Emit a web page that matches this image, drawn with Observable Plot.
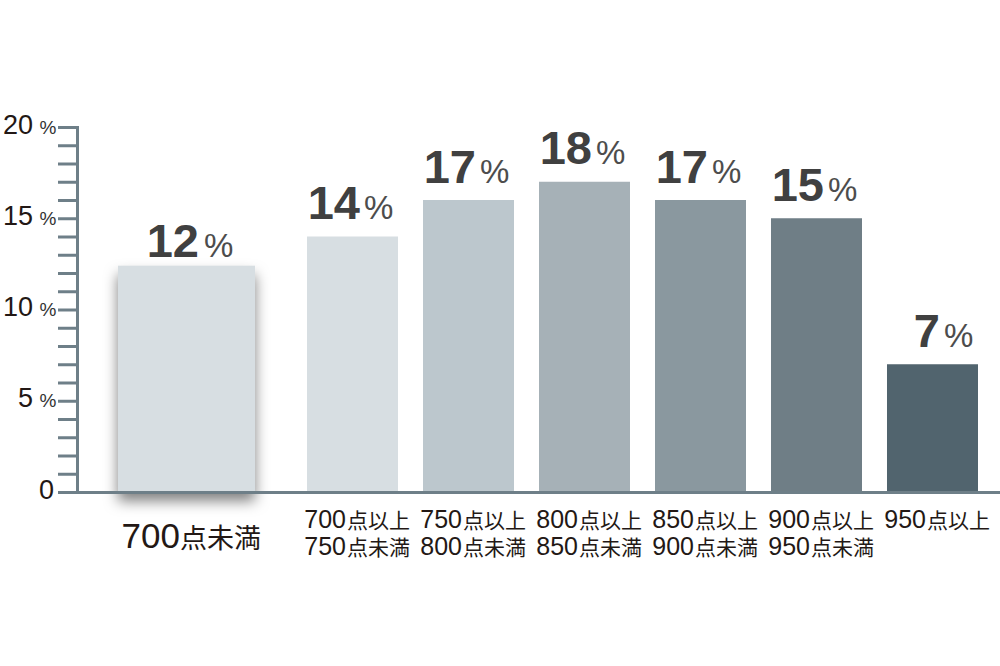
<!DOCTYPE html>
<html>
<head>
<meta charset="utf-8">
<script src="https://cdn.jsdelivr.net/npm/d3@7"></script>
<script src="https://cdn.jsdelivr.net/npm/@observablehq/plot@0.6"></script>
<style>
  html, body { margin: 0; padding: 0; background: #fff; overflow: hidden; }
  #chart svg { display: block; }
</style>
</head>
<body>
<div id="chart"></div>
<script>
// ---- data ----
const categories = [
  "700点未満",
  "700点以上750点未満",
  "750点以上800点未満",
  "800点以上850点未満",
  "850点以上900点未満",
  "900点以上950点未満",
  "950点以上"
];
const values = [12.4, 14, 16, 17, 16, 15, 7];
const valueLabels = ["12", "14", "17", "18", "17", "15", "7"];
const scoreLines = ["700", "700\n750", "750\n800", "800\n850", "850\n900", "900\n950", "950"];
const unitLines = ["点未満", "点以上\n点未満", "点以上\n点未満", "点以上\n点未満", "点以上\n点未満", "点以上\n点未満", "点以上"];
const yTicks = d3.range(0, 21);
const yLabels = [0, 5, 10, 15, 20];
const barColors = ["#d7dee2", "#d7dee2", "#bcc7cd", "#a6b1b7", "#8a989f", "#6f7e86", "#51646e"];

// ---- table ----
const rows = categories.map((category, i) => ({
  category, value: values[i], label: valueLabels[i], score: scoreLines[i], unit: unitLines[i]
}));
const first = rows.slice(0, 1);
const rest = rows.slice(1);

const axisColor = "#6e7f88";
const ink = "#231815";
const SHIFT = -50;

const chart = Plot.plot({
  width: 1000,
  height: 666,
  marginLeft: 77,
  marginRight: 0,
  marginTop: 127,
  marginBottom: 174,
  style: {fontFamily: "'Liberation Sans', 'Noto Sans CJK JP', sans-serif", background: "#fff", overflow: "visible"},
  x: {domain: categories, range: [178.5, 990.5], paddingInner: 0.2155, paddingOuter: 0.1078, round: false, axis: null},
  y: {domain: [0, 20], axis: null},
  color: {domain: categories, range: barColors},
  marks: [
    Plot.barY(first, {x: "category", y: "value", fill: "category", dx: SHIFT, insetLeft: -23, insetRight: -23, ariaDescription: "shadow-bar"}),
    Plot.barY(rest, {x: "category", y: "value", fill: "category"}),
    Plot.ruleY([0], {stroke: axisColor, strokeWidth: 3}),
    Plot.frame({anchor: "left", stroke: axisColor, strokeWidth: 3}),
    Plot.axisY({ticks: yTicks, tickSize: 19, stroke: axisColor, strokeWidth: 3, tickFormat: () => "", label: null}),
    // y tick labels
    Plot.text(yLabels.filter(d => d > 0), {y: d => d, text: d => String(d), frameAnchor: "left", textAnchor: "end", lineAnchor: "bottom", dx: -44.5, dy: 6, fontSize: 27, fill: ink}),
    Plot.text(yLabels.filter(d => d === 0), {y: d => d, text: d => String(d), frameAnchor: "left", textAnchor: "end", lineAnchor: "bottom", dx: -23.5, dy: 6, fontSize: 27, fill: ink}),
    Plot.text(yLabels.filter(d => d > 0), {y: d => d, text: () => "%", frameAnchor: "left", textAnchor: "end", lineAnchor: "bottom", dx: -21, dy: 6, fontSize: 19, fill: "#333"}),
    // value labels
    Plot.text(first, {x: "category", y: "value", text: "label", dx: SHIFT + 12, dy: -9, textAnchor: "end", lineAnchor: "bottom", fontSize: 47, fontWeight: "bold", fill: "#404040"}),
    Plot.text(first, {x: "category", y: "value", text: () => "%", dx: SHIFT + 17, dy: -9, textAnchor: "start", lineAnchor: "bottom", fontSize: 33, fill: "#4d4d4d"}),
    Plot.text(rest, {x: "category", y: "value", text: "label", dx: 7, dy: -18, textAnchor: "end", lineAnchor: "bottom", fontSize: 47, fontWeight: "bold", fill: "#404040"}),
    Plot.text(rest, {x: "category", y: "value", text: () => "%", dx: 11, dy: -18, textAnchor: "start", lineAnchor: "bottom", fontSize: 33, fill: "#4d4d4d"}),
    // category labels
    Plot.text(first, {x: "category", frameAnchor: "bottom", text: "score", dx: SHIFT - 7, dy: 55, textAnchor: "end", lineAnchor: "bottom", fontSize: 35, fill: ink}),
    Plot.text(first, {x: "category", frameAnchor: "bottom", text: "unit", dx: SHIFT - 7, dy: 55, textAnchor: "start", lineAnchor: "bottom", fontSize: 27, fill: ink}),
    Plot.text(rest, {x: "category", frameAnchor: "bottom", text: "score", dx: -7, dy: 16, textAnchor: "end", lineAnchor: "top", lineHeight: 27 / 25, fontSize: 25, fill: ink}),
    Plot.text(rest, {x: "category", frameAnchor: "bottom", text: "unit", dx: -6, dy: 16, textAnchor: "start", lineAnchor: "top", lineHeight: 27 / 21, fontSize: 21, fill: ink})
  ]
});

const shadowG = chart.querySelector('[aria-description="shadow-bar"]') || chart.querySelector('g[aria-label="bar"]');
if (shadowG) shadowG.style.filter = "drop-shadow(0px 9px 7px rgba(0,0,0,0.5))";

document.getElementById("chart").appendChild(chart);
</script>
</body>
</html>
